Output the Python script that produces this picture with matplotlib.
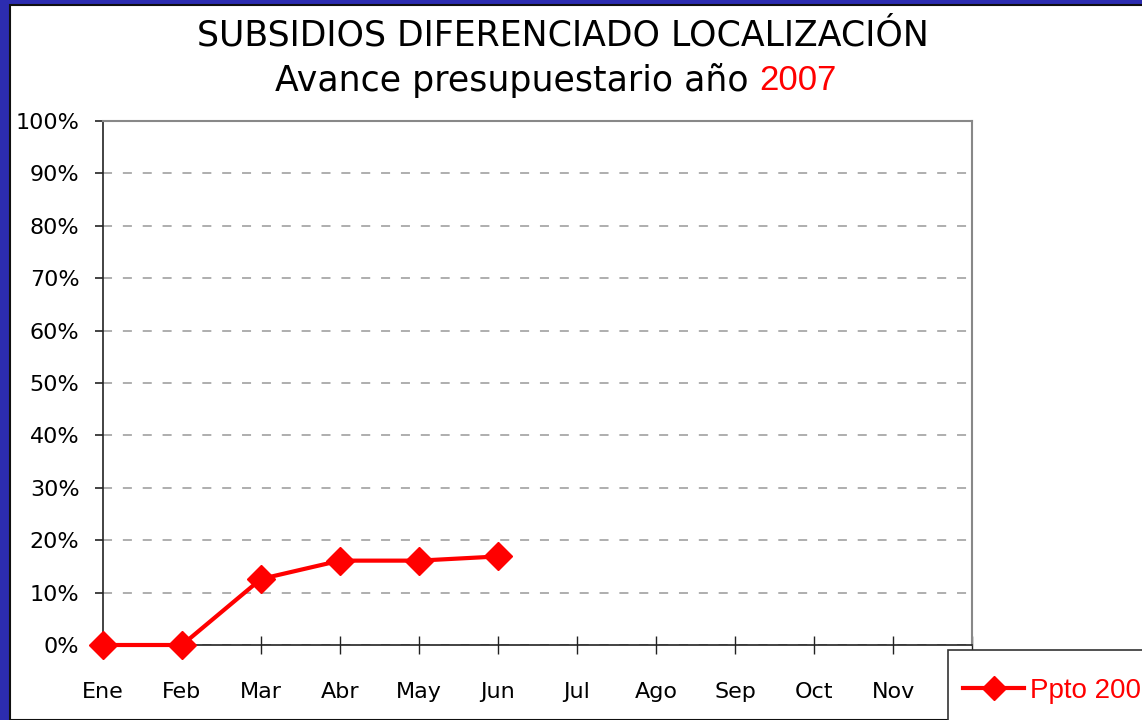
import matplotlib
matplotlib.use("Agg")
import matplotlib.pyplot as plt
from matplotlib.patches import Rectangle
from matplotlib.ticker import FuncFormatter

months = ["Ene", "Feb", "Mar", "Abr", "May", "Jun", "Jul", "Ago", "Sep", "Oct", "Nov", "Dic"]
ppto_2007 = [0.0, 0.0, 0.126, 0.161, 0.161, 0.169]
series_label = "Ppto 2007"
title_line1 = "SUBSIDIOS DIFERENCIADO LOCALIZACIÓN"
title_line2 = "Avance presupuestario año "
title_year = "2007"

W, H = 1142, 720
fig = plt.figure(figsize=(W / 100, H / 100), dpi=100)
fig.patch.set_facecolor("#2c2cb0")
fig.patches.append(Rectangle((10 / W, 0), 1, 1 - 5 / H, transform=fig.transFigure,
                             facecolor="white", edgecolor="#101010", lw=1.5, zorder=-5))

ax = fig.add_axes([103 / W, 1 - 645 / H, (972 - 103) / W, (645 - 121) / H])
ax.set_facecolor("white")
x = list(range(len(months)))
ax.plot(x[:len(ppto_2007)], ppto_2007, color="#ff0000", lw=3, marker="D", ms=14,
        label=series_label, clip_on=False, zorder=5)
ax.set_xlim(0, len(months) - 1)
ax.set_ylim(0, 1.0)
ax.set_xticks(x)
ax.set_xticklabels(months, fontsize=16, family="DejaVu Sans")
ax.set_yticks([i / 10 for i in range(11)])
ax.yaxis.set_major_formatter(FuncFormatter(lambda v, p: f"{v*100:.0f}%"))
ax.tick_params(axis="x", direction="inout", length=13, width=1, color="#222222", pad=20)
ax.tick_params(axis="y", direction="out", length=6, width=1.2, color="#222222", pad=11,
               labelsize=16)
ax.grid(axis="y", color="#a8a8a8", lw=1.3, ls=(0, (5, 6)))
for s in ["top", "right"]:
    ax.spines[s].set_color("#888888")
    ax.spines[s].set_linewidth(1.5)
ax.spines["left"].set_color("#222222")
ax.spines["bottom"].set_color("#222222")
ax.spines["left"].set_linewidth(1.2)
ax.spines["bottom"].set_linewidth(1.2)

fig.text(563 / W, 1 - 35 / H, title_line1, ha="center", va="center", fontsize=25, color="black")
t2 = fig.text(275 / W, 1 - 80 / H, title_line2, ha="left", va="center", fontsize=25, color="black")
fig.canvas.draw()
bb = t2.get_window_extent()
fig.text(bb.x1 / W, 1 - 80 / H, title_year, ha="left", va="center", fontsize=25,
         color="#ff0000", family="Liberation Sans")

# legend frame (extends beyond the canvas like the reference)
ax.add_patch(Rectangle((948 / W, -0.1), 0.2, 0.1 + (720 - 650) / H,
                       transform=fig.transFigure, facecolor="white",
                       edgecolor="#333333", lw=1.2, zorder=8, clip_on=False))
leg = ax.legend(loc="center left", bbox_to_anchor=(963 / W, 1 - 691 / H),
                bbox_transform=fig.transFigure, frameon=False,
                borderpad=0, handlelength=2.2, handletextpad=0.2,
                borderaxespad=0, markerscale=0.9,
                prop={"family": "Liberation Sans", "size": 20})
leg.set_zorder(10)
for t in leg.get_texts():
    t.set_color("#ff0000")

fig.savefig("out.png", dpi=100, facecolor=fig.get_facecolor())
